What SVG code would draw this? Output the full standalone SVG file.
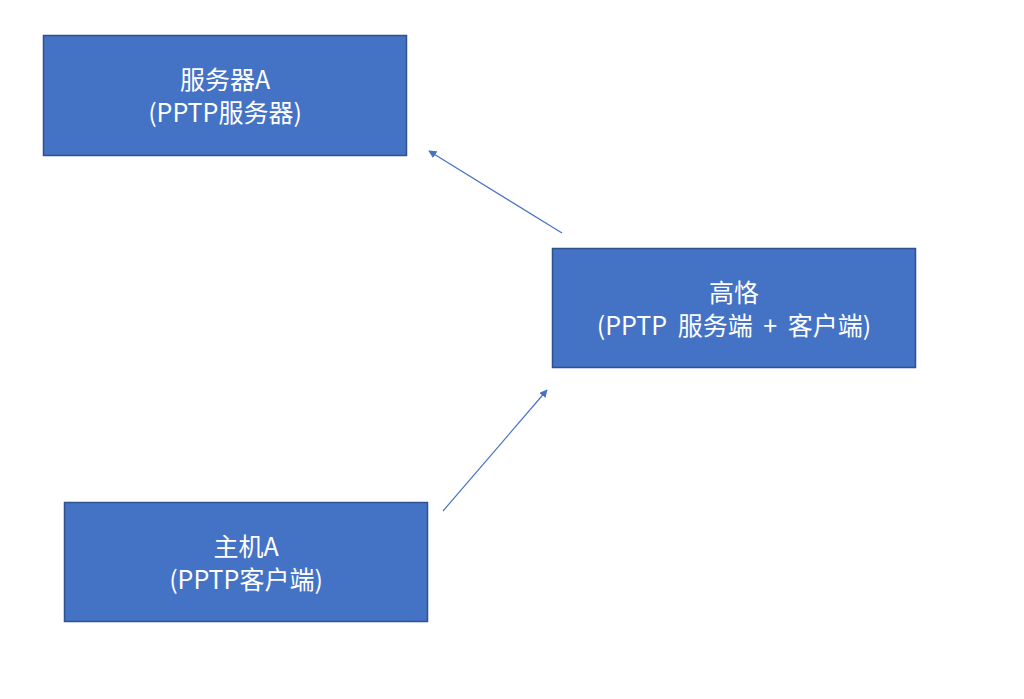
<svg xmlns="http://www.w3.org/2000/svg" width="1024" height="699" viewBox="0 0 1024 699">
<style>
.box{fill:#4472C4;stroke:#2F528F;stroke-width:1.5}
.t{fill:#FFFFFF;font-family:"Noto Sans CJK SC","Noto Sans",sans-serif;font-size:25px;text-anchor:middle}
.w{word-spacing:5px}
.c{stroke:#4472C4;stroke-width:1.2;fill:none;marker-end:url(#ah)}
</style>
<defs>
<marker id="ah" viewBox="0 0 10 10" refX="9" refY="5" markerWidth="8" markerHeight="8" markerUnits="userSpaceOnUse" orient="auto">
<path d="M0,0 L10,5 L0,10 z" fill="#4472C4"/>
</marker>
</defs>
<rect width="1024" height="699" fill="#FFFFFF"/>
<g id="serverA">
<rect class="box" x="43.5" y="35.5" width="363" height="120"/>
<text class="t" x="225" y="89">服务器A</text>
<text class="t" x="225" y="122">(PPTP服务器)</text>
</g>
<g id="gaoge">
<rect class="box" x="552.5" y="248.5" width="363" height="119"/>
<text class="t" x="734" y="302">高恪</text>
<text class="t w" x="734" y="335">(PPTP 服务端 + 客户端)</text>
</g>
<g id="hostA">
<rect class="box" x="64.5" y="502.5" width="363" height="119"/>
<text class="t" x="246" y="556">主机A</text>
<text class="t" x="246" y="589">(PPTP客户端)</text>
</g>
<g id="connectors">
<line class="c" x1="562" y1="233" x2="429" y2="151"/>
<line class="c" x1="443" y1="511" x2="547" y2="390"/>
</g>
</svg>
